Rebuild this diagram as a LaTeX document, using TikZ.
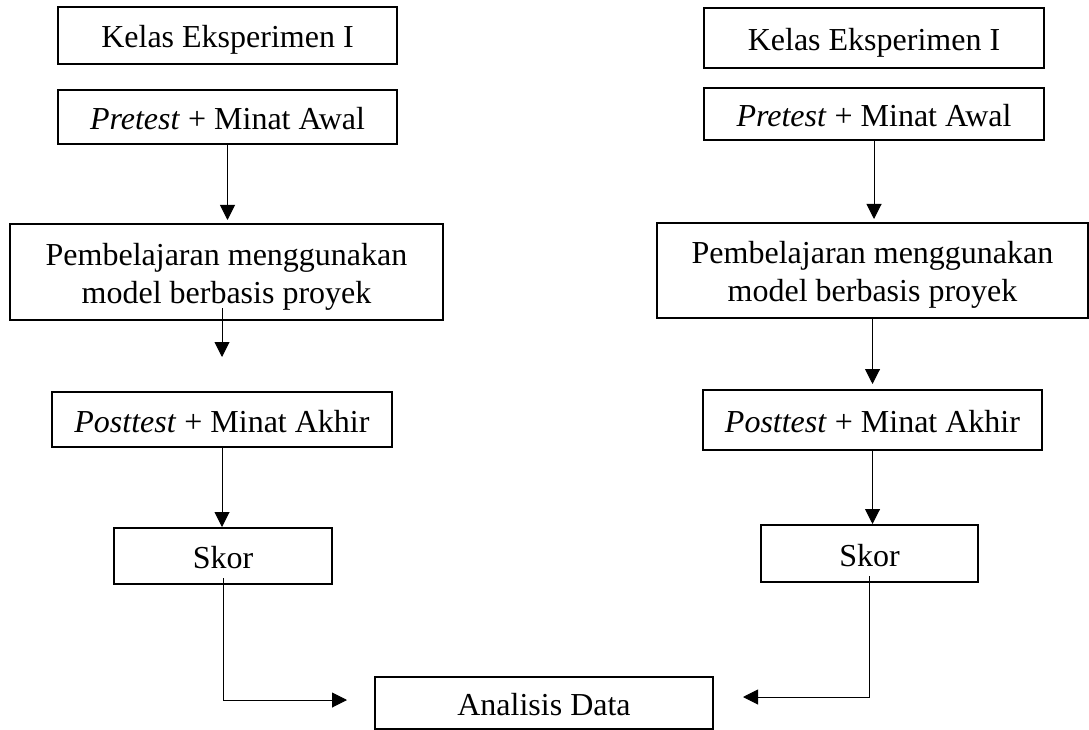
\documentclass[tikz,border=0pt]{standalone}
\usepackage{fontspec}
\setmainfont{Liberation Serif}
\usetikzlibrary{arrows.meta,calc}

\begin{document}
\begin{tikzpicture}[x=1pt, y=-1pt,
	box/.style = {draw, line width=2pt, inner sep=0pt, align=center, text height=25pt, text depth=0pt, font=\fontsize{32}{38}\selectfont},
	twoline/.style = {text height=62pt, text depth=0pt},
	arr/.style = {line width=1pt, -{Triangle[length=15pt,width=15pt]}}]
	\useasboundingbox (0,0) rectangle (1089,730);
	% left column
	\node[box, minimum width=339pt, minimum height=57pt] (lk) at (227.5,35.5) {Kelas Eksperimen I};
	\node[box, minimum width=339pt, minimum height=54pt] (lp) at (227.5,117) {\textit{Pretest} + Minat Awal};
	\node[box, twoline, minimum width=433pt, minimum height=96pt] (lm) at (226.5,272) {Pembelajaran menggunakan\\model berbasis proyek};
	\node[box, minimum width=340pt, minimum height=55pt] (lq) at (222,419.5) {\textit{Posttest} + Minat Akhir};
	\node[box, minimum width=218pt, minimum height=56pt] (ls) at (223,556) {Skor};
	% right column
	\node[box, minimum width=340pt, minimum height=60pt] (rk) at (874,38) {Kelas Eksperimen I};
	\node[box, minimum width=340pt, minimum height=52pt] (rp) at (874,114) {\textit{Pretest} + Minat Awal};
	\node[box, twoline, minimum width=431pt, minimum height=95pt] (rm) at (872.5,270.5) {Pembelajaran menggunakan\\model berbasis proyek};
	\node[box, minimum width=339pt, minimum height=60pt] (rq) at (872.5,420) {\textit{Posttest} + Minat Akhir};
	\node[box, minimum width=217pt, minimum height=57pt] (rs) at (869.5,553.5) {Skor};
	% bottom
	\node[box, minimum width=338pt, minimum height=52pt] (ad) at (544,703) {Analisis Data};

	\draw[arr, shorten >=3pt] (lp.south) -- (lp.south |- lm.north);
	\draw[arr, shorten >=34pt] ([yshift=13pt]lm.south -| lq.north) -- (lq.north);
	\draw[arr] (lq.south) -- (ls.north -| lq.south);
	\draw[arr, shorten >=27pt] ([yshift=7pt]ls.south) |- ([yshift=3pt]ad.west);

	\draw[arr, shorten >=3pt] (rp.south) -- (rp.south |- rm.north);
	\draw[arr, shorten >=5pt] (rm.south) -- (rm.south |- rq.north);
	\draw[arr] (rq.south) -- (rq.south |- rs.north);
	\draw[arr, shorten >=29pt] ([yshift=7pt]rs.south) |- ([yshift=6pt]ad.east);
\end{tikzpicture}
\end{document}
